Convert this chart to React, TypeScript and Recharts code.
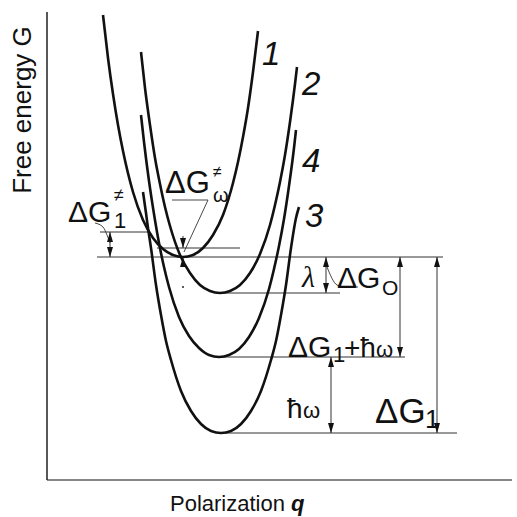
import {
  ComposedChart,
  Line,
  XAxis,
  YAxis,
  ReferenceLine,
  ReferenceDot,
  Label,
} from "recharts"

type Pt = { q: number; G: number }
const toPts = (rows: number[][]): Pt[] => rows.map(([q, G]) => ({ q, G }))

// free-energy terms G(q), numbered as in the labels 1..4
const curve1 = toPts([
  [1.12, 9.3], [1.22, 8.44], [1.32, 7.72], [1.42, 7.1], [1.52, 6.58], [1.72, 5.76],
  [1.92, 5.2], [2.12, 4.84], [2.32, 4.62], [2.52, 4.5], [2.72, 4.46], [2.92, 4.5],
  [3.12, 4.64], [3.32, 4.9], [3.52, 5.3], [3.72, 5.94], [3.82, 6.36], [3.92, 6.86],
  [4.02, 7.44], [4.12, 8.16], [4.22, 8.98],
])
const curve2 = toPts([
  [1.88, 8.56], [1.96, 7.84], [2.06, 7.1], [2.16, 6.44], [2.26, 5.92], [2.36, 5.46],
  [2.46, 5.08], [2.66, 4.5], [2.86, 4.14], [3.06, 3.9], [3.26, 3.78], [3.46, 3.74],
  [3.66, 3.78], [3.86, 3.9], [4.06, 4.14], [4.26, 4.52], [4.46, 5.1], [4.56, 5.5],
  [4.66, 5.96], [4.76, 6.5], [4.86, 7.16], [4.96, 7.92], [5.0, 8.26],
])
const curve4 = toPts([
  [1.88, 7.3], [1.94, 6.76], [2.04, 5.98], [2.14, 5.32], [2.24, 4.74], [2.34, 4.26],
  [2.44, 3.86], [2.64, 3.26], [2.84, 2.88], [3.04, 2.64], [3.24, 2.5], [3.44, 2.46],
  [3.64, 2.5], [3.84, 2.62], [4.04, 2.86], [4.24, 3.24], [4.44, 3.82], [4.54, 4.22],
  [4.64, 4.68], [4.74, 5.22], [4.84, 5.88], [4.94, 6.64], [4.98, 7.0],
])
const curve3 = toPts([
  [1.92, 5.76], [1.98, 5.34], [2.02, 5.04], [2.08, 4.64], [2.18, 3.9], [2.28, 3.3],
  [2.38, 2.78], [2.48, 2.4], [2.68, 1.78], [2.88, 1.38], [3.08, 1.12], [3.28, 0.98],
  [3.48, 0.94], [3.68, 0.98], [3.88, 1.12], [4.08, 1.38], [4.28, 1.78], [4.48, 2.4],
  [4.58, 2.78], [4.68, 3.3], [4.78, 3.9], [4.88, 4.64], [4.98, 5.24], [5.04, 5.46],
])

// energy levels: minima of the terms and the two crossing points
const minG1 = 4.46
const minG2 = 3.74
const minG4 = 2.46
const minG3 = 0.94
const cross13 = 4.96
const cross12 = 4.64

// little curved leaders from the ΔG≠1 and ΔG0 labels
const leader1 = toPts([[0.96, 5.14], [1.12, 5.06], [1.2, 4.9], [1.26, 4.74]])
const leader0 = toPts([[5.6, 4.26], [5.8, 3.9], [5.96, 3.86], [6.22, 3.86]])

const Q_MAX = 9.3
const G_MAX = 9.36

const sans = '"Liberation Sans", Arial, Helvetica, sans-serif'
const serif = '"Liberation Serif", "Times New Roman", serif'
const ink = "#111"
const thin = "#333"

// horizontal level lines [G, qFrom, qTo]
const levelLines: [number, number, number][] = [
  [minG1, 1.0, 7.92],
  [cross12, 2.2, 3.86],
  [cross13, 1.06, 2.02],
  [minG2, 3.46, 5.86],
  [minG4, 3.46, 7.16],
  [minG3, 3.56, 8.2],
]

// double-headed dimension arrows [q, upper G, lower G]
const dimArrows: [number, number, number][] = [
  [1.26, cross13, minG1],
  [5.58, minG1, minG2],
  [7.06, minG1, minG4],
  [5.68, minG4, minG3],
  [7.8, minG1, minG3],
]

function Head({ cx, cy, dir }: { cx: number; cy: number; dir: "up" | "down" }) {
  const w = 3
  const h = 10
  const s = dir === "up" ? 1 : -1
  return (
    <path
      d={`M${cx},${cy} L${cx - w},${cy + s * h} L${cx + w},${cy + s * h} Z`}
      fill={ink}
    />
  )
}

const at = (draw: (x: number, y: number) => JSX.Element) => (p: any) => draw(p.cx, p.cy)

function Txt(props: any) {
  return <text fontFamily={sans} fill={ink} {...props} />
}

export default function App() {
  return (
    <div style={{ position: "absolute", left: 0, top: 0, background: "#fff" }}>
      <ComposedChart
        width={517}
        height={517}
        margin={{ top: 12, right: 5, left: 0, bottom: 0 }}
      >
        <XAxis
          type="number"
          dataKey="q"
          domain={[0, Q_MAX]}
          allowDataOverflow
          tick={false}
          tickLine={false}
          height={37}
          axisLine={{ stroke: ink, strokeWidth: 1.2 }}
        >
          <Label
            content={({ viewBox }: any) => (
              <text x={viewBox.x + 123} y={viewBox.y + 31} fontFamily={sans} fontSize={22} fill={ink}>
                Polarization <tspan fontStyle="italic" fontWeight="bold">q</tspan>
              </text>
            )}
          />
        </XAxis>
        <YAxis
          type="number"
          dataKey="G"
          domain={[0, G_MAX]}
          allowDataOverflow
          tick={false}
          tickLine={false}
          width={47}
          axisLine={{ stroke: ink, strokeWidth: 1.4 }}
        >
          <Label
            content={({ viewBox }: any) => {
              const cx = viewBox.x + 22
              const cy = viewBox.y + 98
              return (
                <text
                  x={cx}
                  y={cy}
                  transform={`rotate(-90, ${cx}, ${cy})`}
                  textAnchor="middle"
                  dominantBaseline="central"
                  fontFamily={sans}
                  fontSize={26}
                  fill={ink}
                >
                  Free energy G
                </text>
              )
            }}
          />
        </YAxis>

        {levelLines.map(([g, a, b], i) => (
          <ReferenceLine
            key={`lv-${i}`}
            segment={[{ x: a, y: g }, { x: b, y: g }]}
            stroke={thin}
            strokeWidth={1}
            ifOverflow="visible"
          />
        ))}

        {dimArrows.map(([q, hi, lo], i) => (
          <ReferenceLine
            key={`ar-${i}`}
            segment={[{ x: q, y: hi }, { x: q, y: lo }]}
            stroke={thin}
            strokeWidth={1}
            ifOverflow="visible"
          />
        ))}
        {dimArrows.map(([q, hi], i) => (
          <ReferenceDot key={`hu-${i}`} x={q} y={hi} ifOverflow="visible"
            shape={at((x, y) => <Head cx={x} cy={y} dir="up" />)} />
        ))}
        {dimArrows.map(([q, , lo], i) => (
          <ReferenceDot key={`hd-${i}`} x={q} y={lo} ifOverflow="visible"
            shape={at((x, y) => <Head cx={x} cy={y} dir="down" />)} />
        ))}

        {/* ΔG≠ω: two inward heads around the tiny barrier */}
        <ReferenceLine segment={[{ x: 2.72, y: cross12 + 0.24 }, { x: 2.72, y: cross12 }]} stroke={thin} ifOverflow="visible" />
        <ReferenceDot x={2.72} y={cross12} ifOverflow="visible"
          shape={at((x, y) => <Head cx={x} cy={y} dir="down" />)} />
        <ReferenceDot x={2.72} y={minG1} ifOverflow="visible"
          shape={at((x, y) => <Head cx={x} cy={y} dir="up" />)} />
        <ReferenceDot x={2.72} y={3.86} ifOverflow="visible"
          shape={at((x, y) => <circle cx={x} cy={y} r={0.9} fill={ink} />)} />

        {/* leader from ΔG≠ω label to the crossing */}
        <ReferenceLine segment={[{ x: 2.5, y: 5.6 }, { x: 3.22, y: 5.6 }]} stroke={thin} strokeWidth={0.9} ifOverflow="visible" />
        <ReferenceLine segment={[{ x: 3.22, y: 5.6 }, { x: 2.74, y: 4.56 }]} stroke={thin} strokeWidth={0.9} ifOverflow="visible" />

        <Line data={leader1} dataKey="G" type="monotone" stroke={thin} strokeWidth={0.9}
          dot={false} activeDot={false} isAnimationActive={false} />
        <Line data={leader0} dataKey="G" type="monotone" stroke={thin} strokeWidth={0.9}
          dot={false} activeDot={false} isAnimationActive={false} />

        {[curve1, curve2, curve4, curve3].map((c, i) => (
          <Line
            key={`c-${i}`}
            data={c}
            dataKey="G"
            type="monotone"
            stroke={ink}
            strokeWidth={2.6}
            dot={false}
            activeDot={false}
            isAnimationActive={false}
          />
        ))}

        {/* curve numbers */}
        <ReferenceDot x={4.3} y={8.3} ifOverflow="visible"
          shape={at((x, y) => <Txt x={x} y={y} fontSize={33} fontStyle="italic">1</Txt>)} />
        <ReferenceDot x={5.1} y={7.7} ifOverflow="visible"
          shape={at((x, y) => <Txt x={x} y={y} fontSize={33} fontStyle="italic">2</Txt>)} />
        <ReferenceDot x={5.1} y={6.16} ifOverflow="visible"
          shape={at((x, y) => <Txt x={x} y={y} fontSize={33} fontStyle="italic">4</Txt>)} />
        <ReferenceDot x={5.16} y={5.06} ifOverflow="visible"
          shape={at((x, y) => <Txt x={x} y={y} fontSize={33} fontStyle="italic">3</Txt>)} />

        {/* ΔG≠1 */}
        <ReferenceDot x={0.42} y={5.16} ifOverflow="visible"
          shape={at((x, y) => (
            <g>
              <Txt x={x} y={y} fontSize={30}>ΔG</Txt>
              <Txt x={x + 46} y={y + 6} fontSize={22}>1</Txt>
              <Txt x={x + 46} y={y - 21} fontSize={18}>≠</Txt>
            </g>
          ))} />

        {/* ΔG≠ω */}
        <ReferenceDot x={2.36} y={5.74} ifOverflow="visible"
          shape={at((x, y) => (
            <g>
              <Txt x={x} y={y} fontSize={31}>ΔG</Txt>
              <Txt x={x + 48} y={y + 9} fontSize={20}>ω</Txt>
              <Txt x={x + 48} y={y - 16} fontSize={16}>≠</Txt>
            </g>
          ))} />

        {/* λ and ΔG0 */}
        <ReferenceDot x={5.1} y={3.86} ifOverflow="visible"
          shape={at((x, y) => (
            <text x={x} y={y} fontFamily={serif} fontStyle="italic" fontSize={30} fill={ink}>λ</text>
          ))} />
        <ReferenceDot x={5.8} y={3.84} ifOverflow="visible"
          shape={at((x, y) => (
            <g>
              <Txt x={x} y={y} fontSize={30}>ΔG</Txt>
              <Txt x={x + 45} y={y + 7} fontSize={21}>O</Txt>
            </g>
          ))} />

        {/* ΔG1 + ħω */}
        <ReferenceDot x={4.82} y={2.46} ifOverflow="visible"
          shape={at((x, y) => (
            <g>
              <Txt x={x} y={y} fontSize={30}>ΔG</Txt>
              <Txt x={x + 45} y={y + 5} fontSize={22}>1</Txt>
              <Txt x={x + 56} y={y} fontSize={28}>+ħ</Txt>
              <Txt x={x + 88} y={y} fontSize={22}>ω</Txt>
            </g>
          ))} />

        {/* ħω */}
        <ReferenceDot x={4.8} y={1.24} ifOverflow="visible"
          shape={at((x, y) => (
            <g>
              <Txt x={x} y={y} fontSize={28}>ħ</Txt>
              <Txt x={x + 16} y={y} fontSize={22}>ω</Txt>
            </g>
          ))} />

        {/* ΔG1 */}
        <ReferenceDot x={6.56} y={1.14} ifOverflow="visible"
          shape={at((x, y) => (
            <g>
              <Txt x={x} y={y} fontSize={35}>ΔG</Txt>
              <Txt x={x + 50} y={y + 5} fontSize={26}>1</Txt>
            </g>
          ))} />
      </ComposedChart>
    </div>
  )
}
